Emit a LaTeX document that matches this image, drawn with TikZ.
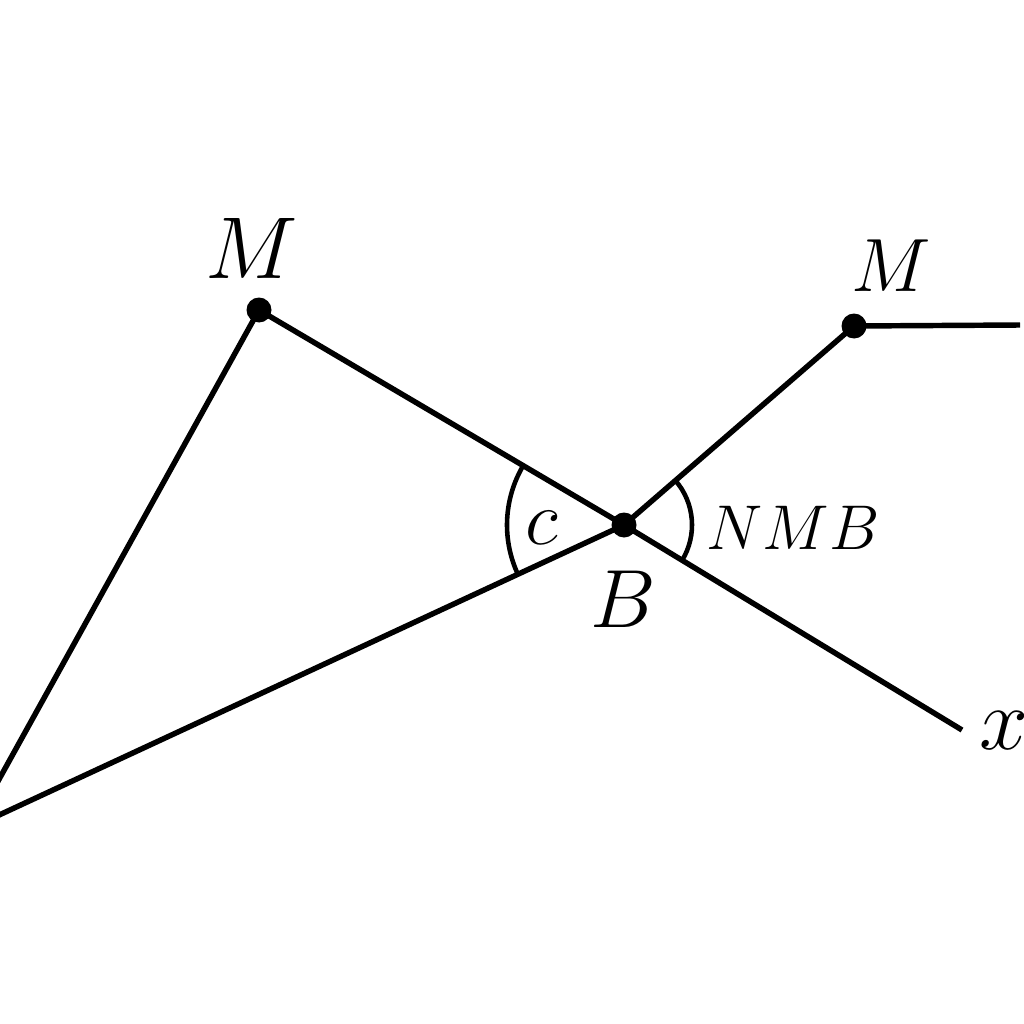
\RequirePackage{fix-cm}
\documentclass[tikz,border=0pt]{standalone}
\begin{document}
\begin{tikzpicture}[x=0.02cm,y=-0.02cm,
  seg/.style={line width=3.1pt},
  arcline/.style={line width=2.6pt},
  dotpt/.style={circle,fill=black,inner sep=0pt,minimum size=0.5cm},
  lbl/.style={inner sep=0pt}]
\clip (0,0) rectangle (1024,1024);
\fill[white] (0,0) rectangle (1024,1024);
\node[dotpt] (M1) at (259,310) {};
\node[dotpt] (B) at (624,525) {};
\node[dotpt] (M2) at (854,326) {};
\coordinate (L1) at (-3,783);
\coordinate (L2) at (-3,816);
\coordinate (X) at (962,730);
\coordinate (R) at (1020,325);
\draw[seg] (M1.center) -- (L1);
\draw[seg] (L2) -- (B.center);
\draw[seg] (M1.center) -- (B.center) -- (X);
\draw[seg] (B.center) -- (M2.center) -- (R);
\draw[arcline] (B.center) ++(-149.5:117) arc[start angle=-149.5,end angle=-205,radius=117];
\draw[arcline] (B.center) ++(31.5:68) arc[start angle=31.5,end angle=-41,radius=68];
\node[lbl,font=\fontsize{50}{60}\selectfont] (tM1) at (252,248) {$M$};
\node[lbl,font=\fontsize{43}{52}\selectfont] (tM2) at (891,266) {$M$};
\node[lbl,font=\fontsize{47}{56}\selectfont] (tB) at (623,599) {$B$};
\node[lbl,font=\fontsize{44}{52}\selectfont] (tc) at (542,528) {$c$};
\node[lbl,font=\fontsize{36}{44}\selectfont] (tN) at (793,528) {$NMB$};
\node[lbl,font=\fontsize{50}{60}\selectfont] (tx) at (1004,731) {$x$};
\end{tikzpicture}
\end{document}
